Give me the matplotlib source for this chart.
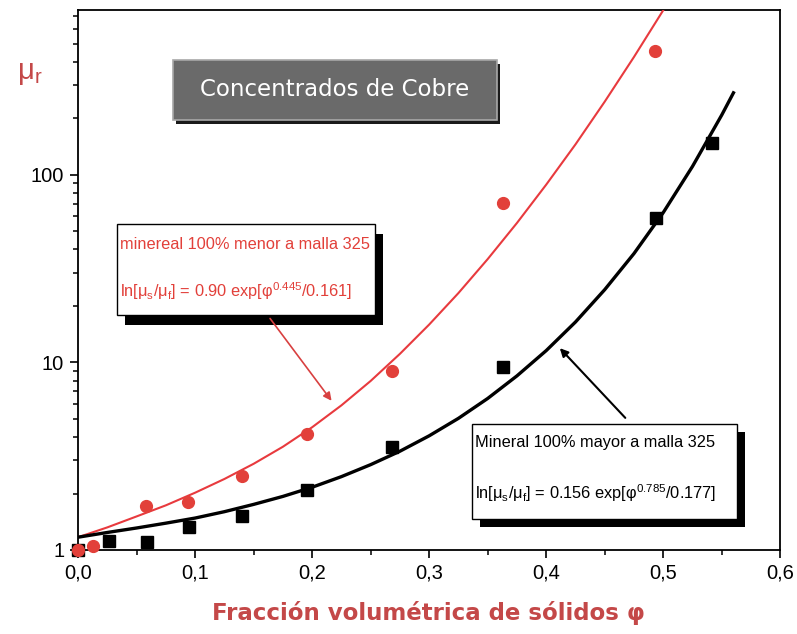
import matplotlib
matplotlib.use("Agg")
import matplotlib.pyplot as plt
from matplotlib.patches import Rectangle
from matplotlib.ticker import FixedLocator, LogLocator, NullFormatter

# measured points
phi_fino = [0.0, 0.013, 0.058, 0.094, 0.140, 0.196, 0.268, 0.363, 0.493]
mu_fino = [1.0, 1.05, 1.72, 1.80, 2.48, 4.15, 9.0, 70.6, 455]

phi_grueso = [0.0, 0.026, 0.059, 0.095, 0.140, 0.196, 0.268, 0.363, 0.494, 0.542]
mu_grueso = [1.0, 1.12, 1.10, 1.33, 1.52, 2.09, 3.54, 9.4, 58.7, 147]

# fit curves
phi_fit_fino = [0.0, 0.025, 0.05, 0.075, 0.1, 0.125, 0.15, 0.175, 0.2, 0.225, 0.25,
                0.275, 0.3, 0.325, 0.35, 0.375, 0.4, 0.425, 0.45, 0.475, 0.5]
mu_fit_fino = [1.17, 1.32, 1.51, 1.73, 2.02, 2.39, 2.88, 3.55, 4.51, 5.90, 7.96,
               11.1, 15.9, 23.4, 35.5, 55.3, 88.5, 145, 245, 424, 752]

phi_fit_grueso = [0.0, 0.025, 0.05, 0.075, 0.1, 0.125, 0.15, 0.175, 0.2, 0.225, 0.25,
                  0.275, 0.3, 0.325, 0.35, 0.375, 0.4, 0.425, 0.45, 0.475, 0.5,
                  0.525, 0.55, 0.56]
mu_fit_grueso = [1.17, 1.24, 1.31, 1.39, 1.48, 1.60, 1.75, 1.93, 2.16, 2.46, 2.85,
                 3.36, 4.06, 5.03, 6.42, 8.47, 11.55, 16.4, 24.4, 38.0, 62.8,
                 110.7, 208, 273]

x_ticks = [0.0, 0.1, 0.2, 0.3, 0.4, 0.5, 0.6]
x_labels = ["0,0", "0,1", "0,2", "0,3", "0,4", "0,5", "0,6"]
y_ticks = [1, 10, 100]
y_labels = ["1", "10", "100"]

plt.rcParams["font.family"] = ["Liberation Sans", "DejaVu Sans"]
plt.rcParams["mathtext.fontset"] = "custom"
plt.rcParams["mathtext.rm"] = "Liberation Sans"
plt.rcParams["mathtext.it"] = "Liberation Sans:italic"

RED = "#e2403a"
LABEL_RED = "#c44848"
BOX_FS = 11.8

fig = plt.figure(figsize=(7.97, 6.34), dpi=100)
ax = fig.add_axes([0.098, 0.1325, 0.881, 0.8515])

ax.plot(phi_fit_fino, mu_fit_fino, color="#e83a3e", lw=1.5, zorder=3)
ax.plot(phi_fit_grueso, mu_fit_grueso, color="black", lw=2.4, zorder=3)
ax.plot(phi_fino, mu_fino, "o", color=RED, ms=8.5, mec=RED, zorder=5, clip_on=False)
ax.plot(phi_grueso, mu_grueso, "s", color="black", ms=8.5, zorder=4, clip_on=False)

ax.set_yscale("log")
ax.set_xlim(0, 0.6)
ax.set_ylim(1, 753)

ax.xaxis.set_major_locator(FixedLocator(x_ticks))
ax.set_xticklabels(x_labels)
ax.xaxis.set_minor_locator(FixedLocator([0.05, 0.15, 0.25, 0.35, 0.45, 0.55]))
ax.yaxis.set_major_locator(FixedLocator(y_ticks))
ax.set_yticklabels(y_labels)
ax.yaxis.set_minor_locator(LogLocator(base=10, subs=range(2, 10)))
ax.yaxis.set_minor_formatter(NullFormatter())
ax.tick_params(which="major", direction="out", length=6, width=1.2, labelsize=14.5, pad=4)
ax.tick_params(which="minor", direction="out", length=3.5, width=1.1)
for s in ax.spines.values():
    s.set_linewidth(1.3)

# title box
ax.add_patch(Rectangle((0.139, 0.789), 0.462, 0.111, transform=ax.transAxes,
                       facecolor="#1a1a1a", edgecolor="none", zorder=6))
ax.add_patch(Rectangle((0.135, 0.796), 0.462, 0.111, transform=ax.transAxes,
                       facecolor="#6a6a6a", edgecolor="#a8a8a8", lw=1.2, zorder=7))
ax.text(0.366, 0.853, "Concentrados de Cobre", transform=ax.transAxes, color="white",
        family="DejaVu Sans", fontsize=16.5, ha="center", va="center", zorder=8)

# annotation box for the fine mineral
ax.add_patch(Rectangle((0.067, 0.417), 0.367, 0.169, transform=ax.transAxes,
                       facecolor="black", edgecolor="none", zorder=6))
ax.add_patch(Rectangle((0.056, 0.435), 0.367, 0.169, transform=ax.transAxes,
                       facecolor="white", edgecolor="black", lw=1.0, zorder=7))
ax.text(0.060, 0.565, "minereal 100% menor a malla 325", transform=ax.transAxes,
        color=RED, fontsize=BOX_FS, va="center", zorder=8)
ax.text(0.060, 0.480, r"ln[μ$_\mathrm{s}$/μ$_\mathrm{f}$] = 0.90 exp[φ$^{\mathrm{0.445}}$/0.161]",
        transform=ax.transAxes, color=RED, fontsize=BOX_FS, va="center", zorder=8)
ax.annotate("", xy=(0.218, 6.07), xytext=(0.271, 0.433), textcoords="axes fraction",
            arrowprops=dict(arrowstyle="-|>", color="#d84040", lw=1.2, mutation_scale=12),
            zorder=8)

# annotation box for the coarse mineral
ax.add_patch(Rectangle((0.572, 0.042), 0.378, 0.176, transform=ax.transAxes,
                       facecolor="black", edgecolor="none", zorder=6))
ax.add_patch(Rectangle((0.561, 0.057), 0.378, 0.176, transform=ax.transAxes,
                       facecolor="white", edgecolor="black", lw=1.0, zorder=7))
ax.text(0.565, 0.199, "Mineral 100% mayor a malla 325", transform=ax.transAxes,
        color="black", fontsize=BOX_FS, va="center", zorder=8)
ax.text(0.565, 0.106, r"ln[μ$_\mathrm{s}$/μ$_\mathrm{f}$] = 0.156 exp[φ$^{\mathrm{0.785}}$/0.177]",
        transform=ax.transAxes, color="black", fontsize=BOX_FS, va="center", zorder=8)
ax.annotate("", xy=(0.41, 12.2), xytext=(0.782, 0.241), textcoords="axes fraction",
            arrowprops=dict(arrowstyle="-|>", color="black", lw=1.5, mutation_scale=12),
            zorder=8)

fig.text(0.037, 0.885, r"μ$_\mathrm{r}$", color=LABEL_RED, fontsize=21, ha="center", va="center")
fig.text(0.537, 0.033, "Fracción volumétrica de sólidos φ", color=LABEL_RED,
         family="DejaVu Sans", fontsize=16.5, fontweight="bold", ha="center", va="center")

fig.savefig("out.png", dpi=100)
